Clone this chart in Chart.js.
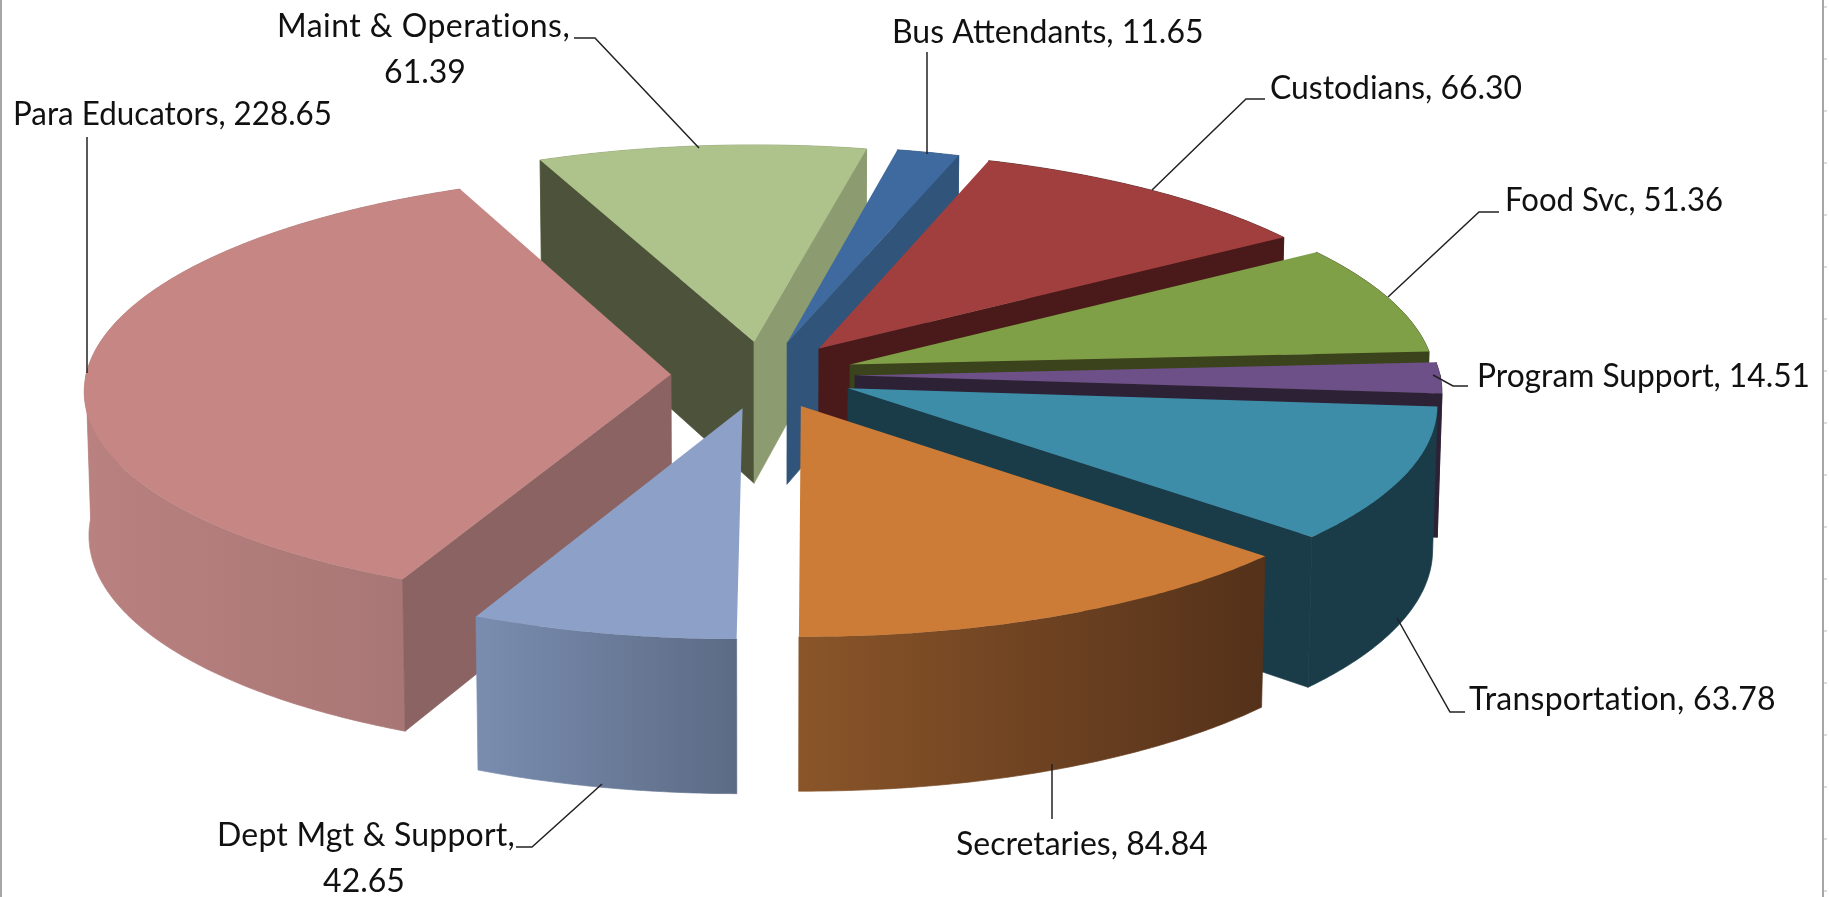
<!DOCTYPE html>
<html lang="en">
<head>
    <meta charset="utf-8">
    <title>Staff by category</title>
    <style>
        html, body { margin: 0; padding: 0; background: #fff; }
        #wrap { position: relative; width: 1829px; height: 897px; overflow: hidden; }
        #myChart { filter: blur(0.5px); }
    </style>
</head>
<body>
    <div id="wrap"><canvas id="myChart"></canvas></div>
    <script src="https://cdn.jsdelivr.net/npm/chart.js"></script>
    <script>
        // Data
        const categories = ['Bus Attendants', 'Custodians', 'Food Svc', 'Program Support', 'Transportation',
            'Secretaries', 'Dept Mgt & Support', 'Para Educators', 'Maint & Operations'];
        const staffValues = [11.65, 66.30, 51.36, 14.51, 63.78, 84.84, 42.65, 228.65, 61.39];

        // Slice colours
        const topColors = ['#3f6a9f', '#a03f3d', '#80a048', '#6c5087', '#3d8da8', '#cc7c37', '#8da1c8', '#c58684', '#aec38b'];
        const startWallColors = ['#31547a', '#4a1a1a', '#3a431b', '#2d2136', '#1a3b48', '#54311a', '#5c6b85', '#8a6362', '#4d533a'];
        const endWallColors = ['#31547a', '#4a1a1a', '#3a431b', '#2d2136', '#1a3b48', '#54311a', '#5c6b85', '#8a6362', '#8c9c70'];
        const outerLeftColors = ['#31547a', '#4a1a1a', '#3a431b', '#2d2136', '#1a3b48', '#8a5529', '#7a8db0', '#b98180', '#8c9c70'];
        const outerRightColors = ['#31547a', '#4a1a1a', '#3a431b', '#2d2136', '#1a3b48', '#54311a', '#5c6b85', '#a57573', '#8c9c70'];

        // Label text position and leader line for each slice (same order as categories)
        const labelLayout = [
            { x: 892, y: 43, maxW: 313, leader: [[927, 52], [927, 154]] },
            { x: 1270, y: 99, maxW: 252, leader: [[1265, 99], [1246, 99], [1152, 190]] },
            { x: 1505, y: 211, maxW: 218, leader: [[1499, 212], [1479, 212], [1388, 297]] },
            { x: 1477, y: 387, maxW: 333, leader: [[1468, 386], [1453, 386], [1433, 375]] },
            { x: 1469, y: 710, spacing: '0.25px', leader: [[1465, 712], [1450, 712], [1397, 618]] },
            { x: 956, y: 855, maxW: 254, leader: [[1052, 764], [1052, 819]] },
            { x: 217, y: 846, wrap: 364, spacing: '0.2px', leader: [[516, 847], [532, 847], [602, 784]] },
            { x: 13, y: 125, maxW: 319, leader: [[87, 137], [87, 373]] },
            { x: 277, y: 37, wrap: 425, spacing: '0.45px', leader: [[574, 38], [595, 38], [699, 148]] }
        ];

        // view of the pie: squash, perspective and height
        const view = { squash: 214, bow: 13, perspective: 0.07, height: 143, heightGrow: 10, taper: 0.007 };

        const project = (arc, u, v, z) => {
            return {
                x: arc.x + arc.outerRadius * u * (1 + view.perspective * v) * (1 - view.taper * z),
                y: arc.y + view.squash * v + view.bow * v * v + z * (view.height + view.heightGrow * v)
            };
        }

        const tracePath = (ctx, points) => {
            ctx.beginPath();
            points.forEach((p, i) => i ? ctx.lineTo(p.x, p.y) : ctx.moveTo(p.x, p.y));
            ctx.closePath();
        }

        const fillFace = (ctx, points, style) => {
            tracePath(ctx, points);
            ctx.fillStyle = style;
            ctx.strokeStyle = style;
            ctx.lineWidth = 0.7;
            ctx.fill();
            ctx.stroke();
        }

        const drawSlice = (ctx, arc, i) => {
            const e = arc.options.offset / 2 / arc.outerRadius;
            const mid = (arc.startAngle + arc.endAngle) / 2;
            const ox = e * Math.cos(mid), oy = e * Math.sin(mid);
            const at = (a, z) => project(arc, ox + Math.cos(a), oy + Math.sin(a), z);
            const apex = z => project(arc, ox, oy, z);

            const steps = Math.max(4, Math.ceil((arc.endAngle - arc.startAngle) / 0.01));
            const angles = [];
            for (var s = 0; s <= steps; s++) {
                angles.push(arc.startAngle + (arc.endAngle - arc.startAngle) * s / steps);
            }

            // outer wall, back part and front part apart so the band does not cancel itself out
            const topEdge = angles.map(a => at(a, 0));
            const xs = topEdge.map(p => p.x);
            const grad = ctx.createLinearGradient(Math.min(...xs), 0, Math.max(...xs), 0);
            grad.addColorStop(0, outerLeftColors[i]);
            grad.addColorStop(1, outerRightColors[i]);
            const wall = list => {
                if (list.length < 2) return;
                fillFace(ctx, list.map(a => at(a, 0)).concat(list.slice().reverse().map(a => at(a, 1))), grad);
            }
            wall(angles.filter(a => Math.sin(a) < 0.01));
            wall(angles.filter(a => Math.sin(a) > -0.01));

            // cut walls, only the ones that face the viewer
            if (-Math.cos(arc.startAngle) > 0.1) {
                fillFace(ctx, [apex(0), at(arc.startAngle, 0), at(arc.startAngle, 1), apex(1)], startWallColors[i]);
            }
            if (Math.cos(arc.endAngle) > 0.1) {
                fillFace(ctx, [apex(0), at(arc.endAngle, 0), at(arc.endAngle, 1), apex(1)], endWallColors[i]);
            }

            // top face
            tracePath(ctx, [apex(0)].concat(topEdge));
            ctx.fillStyle = arc.options.backgroundColor;
            ctx.fill();
        }

        const pie3d = {
            id: 'pie3d',
            beforeDatasetsDraw(chart) {
                const ctx = chart.ctx;
                const arcs = chart.getDatasetMeta(0).data;
                const depthOf = arc => {
                    const mid = (arc.startAngle + arc.endAngle) / 2;
                    return Math.sin(mid);
                }
                const order = arcs.map((arc, i) => i).sort((a, b) => depthOf(arcs[a]) - depthOf(arcs[b]));
                ctx.save();
                order.forEach(i => drawSlice(ctx, arcs[i], i));
                ctx.restore();
                return false;
            },
            afterDraw(chart) {
                const ctx = chart.ctx;
                ctx.save();
                // frame of the pasted picture
                ctx.strokeStyle = '#a6a6a6';
                ctx.lineWidth = 2;
                ctx.beginPath();
                ctx.moveTo(1, 0); ctx.lineTo(1, 897);
                ctx.moveTo(1823, 0); ctx.lineTo(1823, 897);
                ctx.stroke();
                ctx.strokeStyle = '#dcdcdc';
                ctx.beginPath();
                for (var y = 7; y < 897; y += 52) {
                    ctx.moveTo(1824, y); ctx.lineTo(1827, y);
                }
                ctx.stroke();

                // leader lines
                ctx.strokeStyle = '#222';
                ctx.lineWidth = 1.5;
                labelLayout.forEach(l => {
                    ctx.beginPath();
                    l.leader.forEach((p, i) => i ? ctx.lineTo(p[0], p[1]) : ctx.moveTo(p[0], p[1]));
                    ctx.stroke();
                });

                // labels
                ctx.fillStyle = '#111';
                ctx.font = '32px Lato';
                ctx.textBaseline = 'alphabetic';
                categories.forEach((c, i) => {
                    const l = labelLayout[i];
                    const val = staffValues[i].toFixed(2);
                    ctx.letterSpacing = l.spacing || '0px';
                    ctx.textAlign = 'left';
                    if (l.wrap) {
                        ctx.fillText(c + ',', l.x, l.y);
                        ctx.letterSpacing = '0px';
                        ctx.textAlign = 'center';
                        ctx.fillText(val, l.wrap, l.y + 46);
                    } else if (l.maxW) {
                        ctx.fillText(c + ', ' + val, l.x, l.y, l.maxW);
                    } else {
                        ctx.fillText(c + ', ' + val, l.x, l.y);
                    }
                });
                ctx.restore();
            }
        };

        const ctx = document.getElementById('myChart').getContext('2d');
        const myChart = new Chart(ctx, {
            type: 'pie',
            data: {
                labels: categories,
                datasets: [{
                    data: staffValues,
                    backgroundColor: topColors,
                    borderWidth: 0,
                    offset: 184
                }]
            },
            options: {
                responsive: true,
                maintainAspectRatio: false,
                animation: false,
                rotation: 12,
                radius: 585,
                layout: { padding: { left: 0, top: 0, right: 303, bottom: 147 } },
                events: [],
                plugins: { legend: { display: false }, tooltip: { enabled: false } }
            },
            plugins: [pie3d]
        });
    </script>
</body>
</html>
